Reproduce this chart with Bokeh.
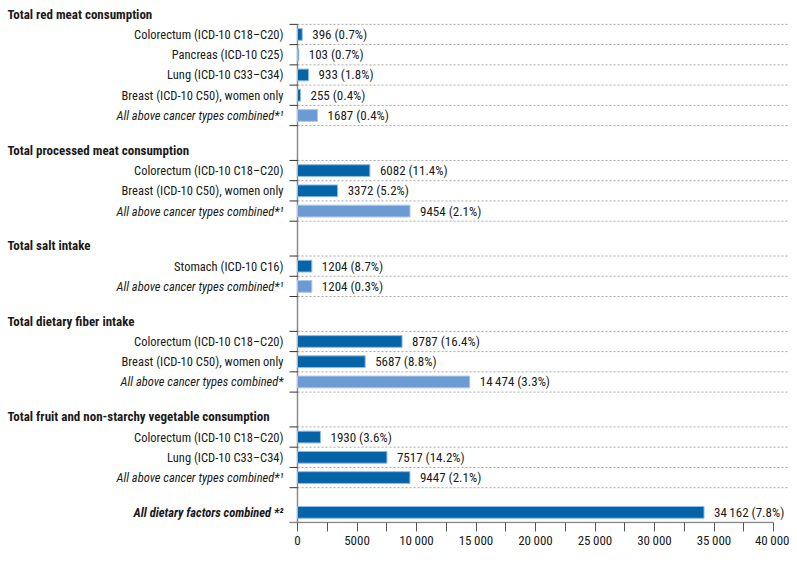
from bokeh.plotting import figure
from bokeh.models import ColumnDataSource, Range1d, FixedTicker
from bokeh.core.properties import value
from bokeh.embed import file_html
from bokeh.resources import INLINE

# ---------------- data ----------------
sections = [
    "Total red meat consumption",
    "Total processed meat consumption",
    "Total salt intake",
    "Total dietary fiber intake",
    "Total fruit and non-starchy vegetable consumption",
]
section_labels = [
    ["Colorectum (ICD-10 C18–C20)", "Pancreas (ICD-10 C25)", "Lung (ICD-10 C33–C34)",
     "Breast (ICD-10 C50), women only", "All above cancer types combined*¹"],
    ["Colorectum (ICD-10 C18–C20)", "Breast (ICD-10 C50), women only",
     "All above cancer types combined*¹"],
    ["Stomach (ICD-10 C16)", "All above cancer types combined*¹"],
    ["Colorectum (ICD-10 C18–C20)", "Breast (ICD-10 C50), women only",
     "All above cancer types combined*"],
    ["Colorectum (ICD-10 C18–C20)", "Lung (ICD-10 C33–C34)",
     "All above cancer types combined*¹"],
]
section_values = [
    [396, 103, 933, 255, 1687],
    [6082, 3372, 9454],
    [1204, 1204],
    [8787, 5687, 14474],
    [1930, 7517, 9447],
]
section_pcts = [
    [0.7, 0.7, 1.8, 0.4, 0.4],
    [11.4, 5.2, 2.1],
    [8.7, 0.3],
    [16.4, 8.8, 3.3],
    [3.6, 14.2, 2.1],
]
total_label = "All dietary factors combined *²"
total_value = 34162
total_pct = 7.8
x_ticks = [0, 5000, 10000, 15000, 20000, 25000, 30000, 35000, 40000]
x_minor = [2500, 7500, 12500, 17500, 22500, 27500, 32500, 37500]

# ---------------- style / layout ----------------
FONT = "Roboto Condensed"
DARK = "#0563a8"
LIGHT = "#6b9bd2"
DARK_EDGE = "#8dbbe6"
LIGHT_EDGE = "#a9c7e8"
TEXT = "#1a1a1a"
AXIS_GRAY = "#8a8a8a"
light_combined = [True, True, True, True, False]
GAP = 1.72
FINAL_GAP = 0.72
BAR_H = 0.58

W, H = 789, 550
X0_PX, XMAX_PX = 297, 773      # canvas x of 0 and of the last tick
TOP_PX, AXIS_PX = 24, 525      # canvas y of first row boundary and of x axis
FRAME_BOTTOM_PX = 526


def fmt(v):
    return f"{v:,}".replace(",", "\u2009") if v >= 10000 else str(v)


ys, vals, vtexts, colors, edges = [], [], [], [], []
lab_y = {"normal": [], "italic": [], "bold italic": []}
lab_t = {"normal": [], "italic": [], "bold italic": []}
head_t, head_y = [], []
boundaries = []
y = 0.0
for si, sec in enumerate(sections):
    if si > 0:
        y += GAP
    head_t.append(sec)
    head_y.append(y - 0.5)
    boundaries.append(y)
    for j, v in enumerate(section_values[si]):
        lab = section_labels[si][j]
        combined = lab.startswith("All above")
        ys.append(y + 0.5)
        vals.append(v)
        vtexts.append(f"{fmt(v)} ({section_pcts[si][j]:.1f}%)")
        light = combined and light_combined[si]
        colors.append(LIGHT if light else DARK)
        edges.append(LIGHT_EDGE if light else DARK_EDGE)
        st = "italic" if combined else "normal"
        lab_t[st].append(lab)
        lab_y[st].append(y + 0.5)
        y += 1
        boundaries.append(y)
y += FINAL_GAP
ys.append(y + 0.5)
vals.append(total_value)
vtexts.append(f"{fmt(total_value)} ({total_pct:.1f}%)")
colors.append(DARK)
edges.append(DARK_EDGE)
lab_t["bold italic"].append(total_label)
lab_y["bold italic"].append(y + 0.5)
y += 1
Y_TOTAL = y
XMAX = x_ticks[-1]

sx = (XMAX_PX - X0_PX) / XMAX          # px per data unit (x)
ppu = (AXIS_PX - TOP_PX) / Y_TOTAL     # px per row unit (y)
x_start = -X0_PX / sx
x_end = (W - X0_PX) / sx
tick_len = 8 / sx

src = ColumnDataSource(dict(y=ys, value=vals, vtext=vtexts, color=colors, edge=edges))

p = figure(width=W, height=H,
           x_range=Range1d(x_start, x_end),
           y_range=Range1d(Y_TOTAL + (FRAME_BOTTOM_PX - AXIS_PX) / ppu, -TOP_PX / ppu),
           output_backend="svg", toolbar_location=None, y_axis_location=None,
           min_border_left=0, min_border_right=0, min_border_top=0,
           min_border_bottom=H - FRAME_BOTTOM_PX)
p.outline_line_color = None
p.background_fill_color = "white"
p.border_fill_color = "white"
p.grid.visible = False

# x axis (ticks + labels from Bokeh, line drawn below)
p.xaxis.ticker = FixedTicker(ticks=x_ticks, minor_ticks=x_minor)
p.xaxis.major_label_overrides = {t: fmt(t) for t in x_ticks}
p.xaxis.axis_line_color = None
p.xaxis.major_tick_out = 8
p.xaxis.major_tick_in = 1
p.xaxis.minor_tick_out = 8
p.xaxis.minor_tick_in = 1
p.xaxis.major_tick_line_color = "#555555"
p.xaxis.minor_tick_line_color = "#555555"
p.xaxis.major_label_text_font = FONT
p.xaxis.major_label_text_font_size = "13px"
p.xaxis.major_label_text_color = TEXT
p.xaxis.major_label_standoff = 1

# dotted row separators
p.segment(x0=0, x1=x_end, y0=boundaries, y1=boundaries, line_color="#a8a8a8",
          line_width=1, line_dash="2 2")
# y axis line and ticks
p.segment(x0=[0], x1=[0], y0=[0], y1=[Y_TOTAL], line_color=AXIS_GRAY, line_width=1.5)
p.segment(x0=-tick_len, x1=0, y0=boundaries + [Y_TOTAL], y1=boundaries + [Y_TOTAL],
          line_color="#333333", line_width=1)
# x axis line
p.segment(x0=[-tick_len], x1=[XMAX], y0=[Y_TOTAL], y1=[Y_TOTAL], line_color=AXIS_GRAY,
          line_width=1.5)

# bars
p.hbar(y="y", left=0, right="value", height=BAR_H, fill_color="color",
       line_color="edge", line_width=1, source=src)

# value labels
p.text(x="value", y="y", text="vtext", source=src, x_offset=10, text_baseline="middle",
       text_align="left", text_font=value(FONT), text_font_size="13px", text_color=TEXT)

# row labels
for st in ["normal", "italic", "bold italic"]:
    p.text(x=0, y=lab_y[st], text=lab_t[st], x_offset=-14, text_align="right",
           text_baseline="middle", text_font=value(FONT), text_font_size="12.5px",
           text_font_style=st, text_color=TEXT)

# section headers
p.text(x=x_start, y=head_y, text=head_t, x_offset=7, text_align="left",
       text_baseline="middle", text_font=value(FONT), text_font_size="13px",
       text_font_style="bold", text_color=TEXT)

open("out.html", "w").write(file_html(p, INLINE))
